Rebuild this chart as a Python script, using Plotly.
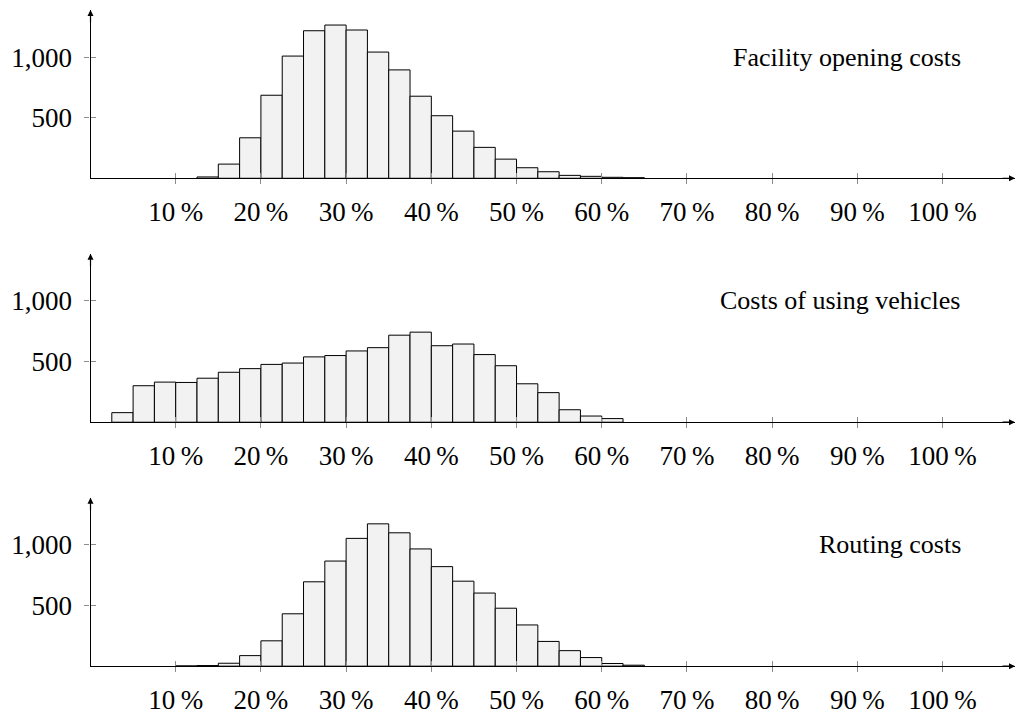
import plotly.graph_objects as go

# ---- data ----
bin_left = [0, 2.5, 5, 7.5, 10, 12.5, 15, 17.5, 20, 22.5, 25, 27.5, 30, 32.5,
            35, 37.5, 40, 42.5, 45, 47.5, 50, 52.5, 55, 57.5, 60, 62.5]
bin_width = 2.5

facility = [None, None, None, None, None, 11, 117, 334, 685, 1008, 1217, 1264, 1223, 1041,
            894, 677, 516, 389, 255, 158, 87, 54, 24, 16, 8, 5]
vehicles = [None, 79, 301, 331, 328, 363, 412, 442, 477, 488, 539, 550, 588, 615,
            718, 743, 631, 645, 558, 466, 317, 244, 103, 51, 30, None]
routing = [None, None, None, None, 2, 5, 24, 87, 209, 432, 696, 867, 1054, 1174,
           1100, 967, 821, 701, 603, 478, 340, 204, 128, 71, 22, 8]

panel_titles = ["Facility opening costs", "Costs of using vehicles", "Routing costs"]
series = [facility, vehicles, routing]

x_tick_vals = [10, 20, 30, 40, 50, 60, 70, 80, 90, 100]
x_tick_text = ["10\u2009%", "20\u2009%", "30\u2009%", "40\u2009%", "50\u2009%",
               "60\u2009%", "70\u2009%", "80\u2009%", "90\u2009%", "100\u2009%"]
y_tick_vals = [500, 1000]
y_tick_text = ["500", "1,000"]

# ---- layout constants ----
W, H = 1016, 715
X_MAX = 108.5
Y_MAX = 1389
x_dom = [90.5 / W, 1015 / W]
# baseline pixel / top pixel per panel
panels_px = [(180.3, 10.0), (427.0, 256.7), (673.7, 503.4)]
FONT = "Liberation Serif"
TICK_COLOR = "#8c8c8c"

fig = go.Figure()
layout = dict(
    width=W, height=H,
    margin=dict(l=0, r=0, t=0, b=0),
    paper_bgcolor="white", plot_bgcolor="rgba(0,0,0,0)",
    showlegend=False,
    font=dict(family=FONT, color="black", size=27),
    annotations=[],
)

for i, (vals, title, (base_px, top_px)) in enumerate(zip(series, panel_titles, panels_px)):
    n = i + 1
    m = i + 4
    xs = "" if n == 1 else str(n)
    ydom = [(H - base_px) / H, (H - top_px) / H]

    fig.add_trace(go.Bar(
        x=bin_left, y=vals, width=bin_width, offset=0,
        marker=dict(color="#f2f2f2", line=dict(color="black", width=1)),
        xaxis="x" + xs, yaxis="y" + xs, hoverinfo="skip",
    ))
    # empty trace on overlay axes (inside ticks)
    fig.add_trace(go.Scatter(x=[None], y=[None], xaxis="x" + str(m), yaxis="y" + str(m),
                             showlegend=False, hoverinfo="skip"))

    layout["xaxis" + xs] = dict(
        domain=x_dom, range=[0, X_MAX], anchor="y" + xs,
        showgrid=False, zeroline=False, showline=True, linecolor="black", linewidth=1.2,
        ticks="outside", ticklen=5, tickwidth=1, tickcolor=TICK_COLOR,
        tickvals=x_tick_vals, ticktext=x_tick_text,
        tickfont=dict(family=FONT, size=27, color="black"),
        ticklabelstandoff=4,
    )
    layout["yaxis" + xs] = dict(
        domain=ydom, range=[0, Y_MAX], anchor="x" + xs,
        showgrid=False, zeroline=False, showline=True, linecolor="black", linewidth=1.2,
        ticks="outside", ticklen=5, tickwidth=1, tickcolor=TICK_COLOR,
        tickvals=y_tick_vals, ticktext=y_tick_text,
        tickfont=dict(family=FONT, size=27, color="black"),
        ticklabelstandoff=7,
    )
    layout["xaxis" + str(m)] = dict(
        domain=x_dom, range=[0, X_MAX], anchor="y" + str(m), overlaying="x" + xs,
        showgrid=False, zeroline=False, showline=False,
        ticks="inside", ticklen=5, tickwidth=1, tickcolor=TICK_COLOR,
        tickvals=x_tick_vals, showticklabels=False,
    )
    layout["yaxis" + str(m)] = dict(
        domain=ydom, range=[0, Y_MAX], anchor="x" + str(m), overlaying="y" + xs,
        showgrid=False, zeroline=False, showline=False,
        ticks="inside", ticklen=5, tickwidth=1, tickcolor=TICK_COLOR,
        tickvals=y_tick_vals, showticklabels=False,
    )

    # panel title
    layout["annotations"].append(dict(
        text=title, xref="paper", yref="y" + xs, x=963 / W, y=1000,
        xanchor="right", yanchor="middle", showarrow=False,
        font=dict(family=FONT, size=26, color="black"),
    ))
    # arrow heads on axes
    layout["annotations"].append(dict(
        x=X_MAX, y=0, xref="x" + xs, yref="y" + xs, ax=-14, ay=0,
        showarrow=True, arrowhead=2, arrowsize=1, arrowwidth=1.2, arrowcolor="black",
        text="",
    ))
    layout["annotations"].append(dict(
        x=0, y=Y_MAX, xref="x" + xs, yref="y" + xs, ax=0, ay=14,
        showarrow=True, arrowhead=2, arrowsize=1, arrowwidth=1.2, arrowcolor="black",
        text="",
    ))

fig.update_layout(**layout)

post = (
    "var de=document.documentElement, b=document.body;"
    "[de,b].forEach(function(e){e.style.margin='0';e.style.padding='0';"
    "e.style.height='715px';e.style.overflow='hidden';});"
    "var g=document.getElementById('{plot_id}');g.style.display='block';"
    "if(g.parentElement){g.parentElement.style.height='715px';g.parentElement.style.overflow='hidden';}"
)
fig.write_html("out.html", config={"displayModeBar": False}, post_script=post)
